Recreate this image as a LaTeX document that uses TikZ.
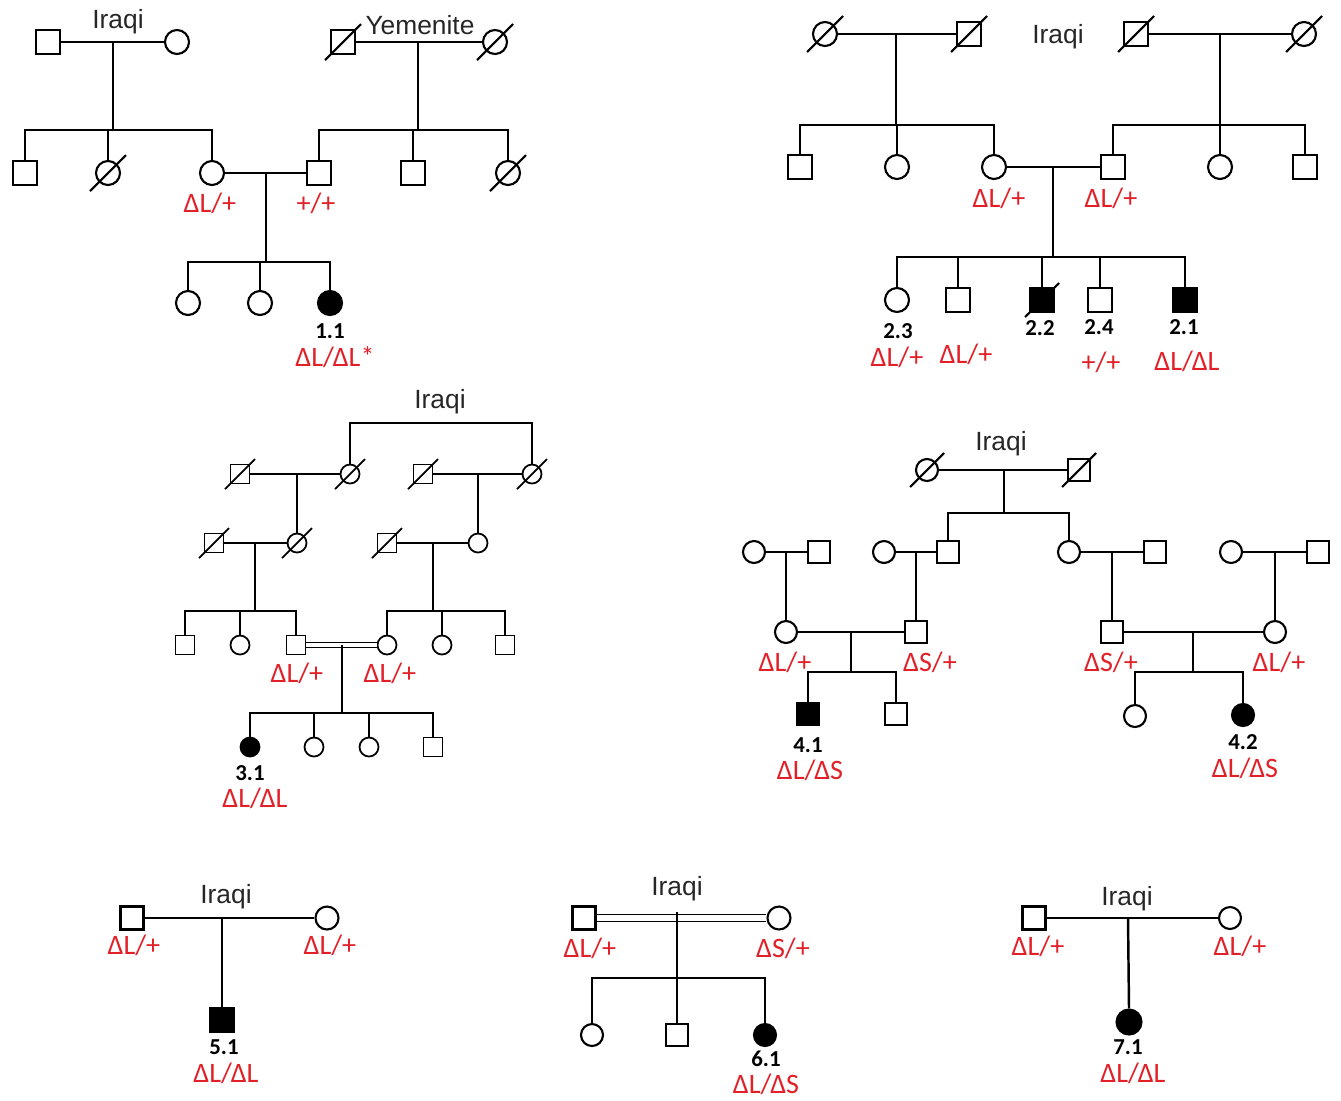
\documentclass[tikz,border=0pt]{standalone}
\usepackage{fontspec}
\newfontfamily\ethfont{Liberation Sans}
\newfontfamily\genofont{Carlito}
\definecolor{gred}{RGB}{226,32,40}
\begin{document}
\begin{tikzpicture}[x=0.02cm, y=-0.02cm, line width=1.2pt,
  sq/.style={draw, rectangle, inner sep=0pt, minimum size=#1},
  sq/.default=0.48cm,
  ci/.style={draw, circle, inner sep=0pt, minimum size=#1},
  ci/.default=0.48cm,
  aff/.style={fill=black},
  dec/.style={append after command={([shift={(-#1,#1)}]\tikzlastnode.center) edge ([shift={(#1,-#1)}]\tikzlastnode.center)}},
  dec/.default=18,
  geno/.style={inner sep=0pt, text=gred, font=\genofont\fontsize{16}{18}\selectfont},
  pid/.style={inner sep=0pt, font=\genofont\bfseries\fontsize{13}{15}\selectfont},
  eth/.style={inner sep=0pt, text=black!85, font=\ethfont\fontsize{15}{17}\selectfont}]
\useasboundingbox (0,0) rectangle (1341,1100);

% family 1
\node[eth] (p1e1) at (118,22) {Iraqi};
\node[eth] (p1e2) at (420,25) {Yemenite};
\node[sq] (p1a) at (48,42) {};
\node[ci] (p1b) at (177,42) {};
\node[sq,dec] (p1c) at (343,42) {};
\node[ci,dec] (p1d) at (495,42) {};
\node[sq] (p1f) at (25,173) {};
\node[ci,dec] (p1g) at (108,173) {};
\node[ci] (p1h) at (212,173) {};
\node[sq] (p1j) at (319,173) {};
\node[sq] (p1k) at (413,173) {};
\node[ci,dec] (p1l) at (508,173) {};
\node[ci] (p1m) at (188,303) {};
\node[ci] (p1n) at (260,303) {};
\node[ci,aff] (p1o) at (330,303) {};
\node[geno] (p1g1) at (210,203) {ΔL/+};
\node[geno] (p1g2) at (316,203) {+/+};
\node[pid] (p1i1) at (330,331) {1.1};
\node[geno] (p1g3) at (335,357) {ΔL/ΔL*};

\coordinate (p1u) at (113,42);
\coordinate (p1s) at (113,130);
\coordinate (p1v) at (418,42);
\coordinate (p1t) at (418,130);
\coordinate (p1w) at (266,173);
\coordinate (p1x) at (266,262);
\draw (p1a) -- (p1b);
\draw (p1c) -- (p1d);
\draw (p1u) -- (p1s);
\draw (p1v) -- (p1t);
\draw (p1f.north) |- (p1s) -| (p1h.north);
\draw (p1g.north) -- (p1g.north |- p1s);
\draw (p1j.north) |- (p1t) -| (p1l.north);
\draw (p1k.north) -- (p1k.north |- p1t);
\draw (p1h) -- (p1j);
\draw (p1w) -- (p1x);
\draw (p1m.north) |- (p1x) -| (p1o.north);
\draw (p1n.north) -- (p1n.north |- p1x);

% family 2
\node[eth] (p2e) at (1058,37) {Iraqi};
\node[ci,dec] (p2a) at (825,34) {};
\node[sq,dec] (p2b) at (969,34) {};
\node[sq,dec] (p2c) at (1136,34) {};
\node[ci,dec] (p2d) at (1304,34) {};
\node[sq] (p2f) at (800,167) {};
\node[ci] (p2g) at (897,167) {};
\node[ci] (p2h) at (994,167) {};
\node[sq] (p2j) at (1113,167) {};
\node[ci] (p2k) at (1220,167) {};
\node[sq] (p2l) at (1305,167) {};
\node[ci] (p2m) at (897,300) {};
\node[sq] (p2n) at (958,300) {};
\node[sq,aff,dec=17] (p2o) at (1042,300) {};
\node[sq] (p2p) at (1100,300) {};
\node[sq,aff] (p2q) at (1185,300) {};
\node[geno] (p2g1) at (999,198) {ΔL/+};
\node[geno] (p2g2) at (1111,198) {ΔL/+};
\node[pid] (p2i3) at (898,331) {2.3};
\node[geno] (p2g3) at (897,357) {ΔL/+};
\node[geno] (p2g4) at (966,354) {ΔL/+};
\node[pid] (p2i2) at (1040,328) {2.2};
\node[pid] (p2i4) at (1099,327) {2.4};
\node[geno] (p2g5) at (1101,362) {+/+};
\node[pid] (p2i1) at (1184,327) {2.1};
\node[geno] (p2g6) at (1187,361) {ΔL/ΔL};

\coordinate (p2u) at (896,34);
\coordinate (p2s) at (896,125);
\coordinate (p2v) at (1220,34);
\coordinate (p2t) at (1220,125);
\coordinate (p2w) at (1053,167);
\coordinate (p2x) at (1053,257);
\draw (p2a) -- (p2b);
\draw (p2c) -- (p2d);
\draw (p2u) -- (p2s);
\draw (p2v) -- (p2t);
\draw (p2f.north) |- (p2s) -| (p2h.north);
\draw (p2g.north) -- (p2g.north |- p2s);
\draw (p2j.north) |- (p2t) -| (p2l.north);
\draw (p2k.north) -- (p2k.north |- p2t);
\draw (p2h) -- (p2j);
\draw (p2w) -- (p2x);
\draw (p2m.north) |- (p2x) -| (p2q.north);
\foreach \c in {p2n,p2o,p2p}
  \draw (\c.north) -- (\c.north |- p2x);

% family 3
\begin{scope}[line width=1pt]
\node[eth] (p3e) at (440,402) {Iraqi};
\node[sq=0.38cm,dec=15] (p3a) at (240,474) {};
\node[ci=0.38cm,dec=15] (p3b) at (350,474) {};
\node[sq=0.38cm,dec=15] (p3c) at (423,474) {};
\node[ci=0.38cm,dec=15] (p3d) at (532,474) {};
\node[sq=0.38cm,dec=15] (p3f) at (214,543) {};
\node[ci=0.38cm,dec=15] (p3g) at (297,543) {};
\node[sq=0.38cm,dec=15] (p3h) at (387,543) {};
\node[ci=0.38cm] (p3j) at (478,543) {};
\node[sq=0.38cm] (p3k) at (185,645) {};
\node[ci=0.38cm] (p3l) at (240,645) {};
\node[sq=0.38cm] (p3m) at (296,645) {};
\node[ci=0.38cm] (p3n) at (387,645) {};
\node[ci=0.38cm] (p3o) at (442,645) {};
\node[sq=0.38cm] (p3p) at (505,645) {};
\node[ci=0.38cm,aff] (p3q) at (250,747) {};
\node[ci=0.38cm] (p3r) at (314,747) {};
\node[ci=0.38cm] (p3s) at (369,747) {};
\node[sq=0.38cm] (p3t) at (433,747) {};
\node[geno] (p3g1) at (297,673) {ΔL/+};
\node[geno] (p3g2) at (390,673) {ΔL/+};
\node[pid] (p3i1) at (250,773) {3.1};
\node[geno] (p3g3) at (255,798) {ΔL/ΔL};

\coordinate (p3z) at (441,423);
\coordinate (p3u) at (297,474);
\coordinate (p3v) at (478,474);
\coordinate (p3w) at (255,543);
\coordinate (p3ws) at (255,611);
\coordinate (p3y) at (433,543);
\coordinate (p3ys) at (433,611);
\coordinate (p3x) at (342,645);
\coordinate (p3xs) at (342,713);
\draw (p3b.north) |- (p3z) -| (p3d.north);
\draw (p3a) -- (p3b);
\draw (p3c) -- (p3d);
\draw (p3u) -- (p3g.north);
\draw (p3v) -- (p3j.north);
\draw (p3f) -- (p3g);
\draw (p3h) -- (p3j);
\draw (p3w) -- (p3ws);
\draw (p3y) -- (p3ys);
\draw (p3k.north) |- (p3ws) -| (p3m.north);
\draw (p3l.north) -- (p3l.north |- p3ws);
\draw (p3n.north) |- (p3ys) -| (p3p.north);
\draw (p3o.north) -- (p3o.north |- p3ys);
\draw[line width=0.8pt, double, double distance=2.2pt] (p3m) -- (p3n);
\draw (p3x) -- (p3xs);
\draw (p3q.north) |- (p3xs) -| (p3t.north);
\foreach \c in {p3r,p3s}
  \draw (\c.north) -- (\c.north |- p3xs);
\end{scope}

% family 4
\node[eth] (p4e) at (1001,444) {Iraqi};
\node[ci=0.44cm,dec=17] (p4a) at (927,470) {};
\node[sq=0.44cm,dec=17] (p4b) at (1079,470) {};
\node[ci=0.44cm] (p4c) at (754,552) {};
\node[sq=0.44cm] (p4d) at (819,552) {};
\node[ci=0.44cm] (p4f) at (884,552) {};
\node[sq=0.44cm] (p4g) at (948,552) {};
\node[ci=0.44cm] (p4h) at (1069,552) {};
\node[sq=0.44cm] (p4j) at (1155,552) {};
\node[ci=0.44cm] (p4k) at (1231,552) {};
\node[sq=0.44cm] (p4l) at (1318,552) {};
\node[ci=0.44cm] (p4m) at (786,632) {};
\node[sq=0.44cm] (p4n) at (916,632) {};
\node[sq=0.44cm] (p4o) at (1112,632) {};
\node[ci=0.44cm] (p4p) at (1275,632) {};
\node[sq=0.44cm,aff] (p4q) at (808,714) {};
\node[sq=0.44cm] (p4r) at (896,714) {};
\node[ci=0.44cm] (p4s) at (1135,716) {};
\node[ci=0.44cm,aff] (p4t) at (1243,715) {};
\node[geno] (p4g1) at (785,662) {ΔL/+};
\node[geno] (p4g2) at (930,662) {ΔS/+};
\node[geno] (p4g3) at (1111,662) {ΔS/+};
\node[geno] (p4g4) at (1279,662) {ΔL/+};
\node[pid] (p4i1) at (808,745) {4.1};
\node[geno] (p4g5) at (810,770) {ΔL/ΔS};
\node[pid] (p4i2) at (1243,742) {4.2};
\node[geno] (p4g6) at (1245,768) {ΔL/ΔS};

\coordinate (p4u) at (1004,470);
\coordinate (p4us) at (1004,513);
\coordinate (p4v1) at (786,552);
\coordinate (p4v2) at (916,552);
\coordinate (p4v3) at (1112,552);
\coordinate (p4v4) at (1275,552);
\coordinate (p4w) at (851,632);
\coordinate (p4ws) at (851,672);
\coordinate (p4x) at (1193,632);
\coordinate (p4xs) at (1193,672);
\draw (p4a) -- (p4b);
\draw (p4u) -- (p4us);
\draw (p4g.north) |- (p4us) -| (p4h.north);
\draw (p4c) -- (p4d);
\draw (p4f) -- (p4g);
\draw (p4h) -- (p4j);
\draw (p4k) -- (p4l);
\draw (p4v1) -- (p4m.north);
\draw (p4v2) -- (p4n.north);
\draw (p4v3) -- (p4o.north);
\draw (p4v4) -- (p4p.north);
\draw (p4m) -- (p4n);
\draw (p4o) -- (p4p);
\draw (p4w) -- (p4ws);
\draw (p4x) -- (p4xs);
\draw (p4q.north) |- (p4ws) -| (p4r.north);
\draw (p4s.north) |- (p4xs) -| (p4t.north);

% family 5
\node[eth] (p5e) at (226,897) {Iraqi};
\node[sq=0.46cm] (p5a) at (132,918) {};
\node[ci=0.46cm] (p5b) at (327,918) {};
\node[sq=0.46cm,aff] (p5c) at (222,1020) {};
\node[geno] (p5g1) at (134,945) {ΔL/+};
\node[geno] (p5g2) at (330,945) {ΔL/+};
\node[pid] (p5i1) at (224,1047) {5.1};
\node[geno] (p5g3) at (226,1073) {ΔL/ΔL};
\coordinate (p5u) at (222,918);
\draw[line width=0.9pt] (p5a) -- (p5b);
\draw[line width=1.4pt] (p5u) -- (p5c.north);

% family 6
\node[eth] (p6e) at (677,889) {Iraqi};
\node[sq=0.46cm] (p6a) at (584,918) {};
\node[ci=0.46cm] (p6b) at (779,918) {};
\node[ci=0.44cm] (p6c) at (592,1035) {};
\node[sq=0.44cm] (p6d) at (677,1035) {};
\node[ci=0.44cm,aff] (p6f) at (765,1035) {};
\node[geno] (p6g1) at (590,948) {ΔL/+};
\node[geno] (p6g2) at (783,948) {ΔS/+};
\node[pid] (p6i1) at (766,1059) {6.1};
\node[geno] (p6g3) at (766,1084) {ΔL/ΔS};
\coordinate (p6u) at (677,912);
\coordinate (p6s) at (677,978);
\draw[line width=0.9pt, double, double distance=3pt] (p6a) -- (p6b);
\draw[line width=1.4pt] (p6u) -- (p6d.north);
\draw[line width=1.4pt] (p6c.north) |- (p6s) -| (p6f.north);

% family 7
\node[eth] (p7e) at (1127,899) {Iraqi};
\node[sq=0.46cm] (p7a) at (1034,918) {};
\node[ci=0.44cm] (p7b) at (1230,918) {};
\node[ci=0.5cm,aff] (p7c) at (1129,1022) {};
\node[geno] (p7g1) at (1038,946) {ΔL/+};
\node[geno] (p7g2) at (1240,946) {ΔL/+};
\node[pid] (p7i1) at (1128,1047) {7.1};
\node[geno] (p7g3) at (1133,1073) {ΔL/ΔL};
\coordinate (p7u) at (1128,918);
\draw[line width=0.9pt] (p7a) -- (p7b);
\draw[line width=1.4pt] (p7u) -- (p7c.north);
\end{tikzpicture}
\end{document}
